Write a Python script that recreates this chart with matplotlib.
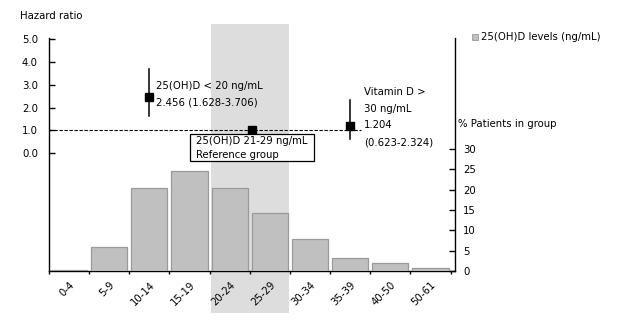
import matplotlib
matplotlib.use("Agg")
import matplotlib.pyplot as plt
from matplotlib.patches import Rectangle
import matplotlib.transforms as mtransforms

# ---- data ----
categories = ["0-4", "5-9", "10-14", "15-19", "20-24", "25-29", "30-34", "35-39", "40-50", "50-61"]
pct_patients = [0.3, 5.9, 20.4, 24.5, 20.4, 14.3, 7.8, 3.2, 2.0, 0.7]

hr_pos = [2.0, 4.55, 7.0]
hr_value = [2.456, 1.0, 1.204]
hr_low = [1.628, 1.0, 0.623]
hr_high = [3.706, 1.0, 2.324]

hr_ticks = [0, 1, 2, 3, 4, 5]
pct_ticks = [0, 5, 10, 15, 20, 25, 30]

FS = 7.3
plt.rcParams['font.family'] = ['DejaVu Sans']
plt.rcParams['font.size'] = FS

W, H = 617, 326
fig = plt.figure(figsize=(W / 100, H / 100), dpi=100)

x0, x1, yb, yt = 49, 455, 271, 38
ax = fig.add_axes([x0 / W, (H - yb) / H, (x1 - x0) / W, (yb - yt) / H])
ax2 = ax.twinx()

ax.set_xlim(-0.49, 9.61)
ax.set_ylim(-5.19, 5.057)
ax2.set_ylim(0, 57.3)

# shaded reference region
trans = mtransforms.blended_transform_factory(ax.transData, ax.transAxes)
ax.add_patch(Rectangle((3.54, -0.18), 5.48 - 3.54, 1.24, transform=trans,
                       facecolor="#dcdddc", edgecolor="none", clip_on=False, zorder=0))

# bars on the % axis
xs = list(range(len(categories)))
ax2.bar(xs, pct_patients, width=0.9, color="#c0c0c0", edgecolor="#9a9a9a",
        linewidth=0.9, zorder=2)

# hazard ratio reference line
ax.plot([-0.49, 7.28], [1.0, 1.0], color="black", lw=0.8,
        linestyle=(0, (3, 1.5)), zorder=3)

# hazard ratio points
for p, v, lo, hi in zip(hr_pos, hr_value, hr_low, hr_high):
    if hi > lo:
        ax.plot([p, p], [lo, hi], color="black", lw=1.1, zorder=4)
    ax.plot([p], [v], marker="s", color="black", markersize=6.3, zorder=5)

# annotations (pixel positions converted)
def px(xp, yp):
    return (xp / W, 1 - yp / H)

fig.text(*px(156, 86), "25(OH)D < 20 ng/mL", va="center", ha="left", fontsize=FS)
fig.text(*px(156, 103), "2.456 (1.628-3.706)", va="center", ha="left", fontsize=FS)

fig.patches.append(Rectangle(px(190, 161), 124 / W, 27 / H, transform=fig.transFigure,
                             facecolor="white", edgecolor="black", lw=0.9, zorder=6))
fig.text(*px(196, 141), "25(OH)D 21-29 ng/mL", va="center", ha="left", fontsize=FS, zorder=7)
fig.text(*px(196, 155), "Reference group", va="center", ha="left", fontsize=FS, zorder=7)

for i, s in enumerate(["Vitamin D >", "30 ng/mL", "1.204", "(0.623-2.324)"]):
    fig.text(*px(364, 92 + i * 16.7), s, va="center", ha="left", fontsize=FS)

fig.text(*px(20, 16), "Hazard ratio", va="center", ha="left", fontsize=FS)
fig.text(*px(458, 124), "% Patients in group", va="center", ha="left", fontsize=FS)

# legend
fig.patches.append(Rectangle(px(472, 40), 6 / W, 6 / H, transform=fig.transFigure,
                             facecolor="#c0c0c0", edgecolor="#9a9a9a", lw=0.6))
fig.text(*px(481, 37), "25(OH)D levels (ng/mL)", va="center", ha="left", fontsize=FS)

# spines
for a in (ax, ax2):
    a.spines["top"].set_visible(False)
    for s in a.spines.values():
        s.set_linewidth(1.0)
ax.spines["right"].set_visible(False)
ax2.spines["left"].set_visible(False)
ax2.spines["bottom"].set_visible(False)

# left ticks
ax.set_yticks(hr_ticks)
ax.set_yticklabels([f"{t:.1f}" for t in hr_ticks])
ax.tick_params(axis="y", direction="in", length=4, width=1, pad=8, labelsize=FS)

# right ticks
ax2.set_yticks(pct_ticks)
ax2.set_yticklabels([str(t) for t in pct_ticks])
ax2.tick_params(axis="y", direction="in", length=4, width=1, pad=6, labelsize=FS)

# x ticks
ax.set_xticks(xs)
ax.set_xticklabels(categories, rotation=45, ha="right", rotation_mode="anchor")
ax.tick_params(axis="x", length=0, pad=6, labelsize=FS)
ax.set_xticks([i + 0.5 for i in range(-1, 10)], minor=True)
ax.tick_params(axis="x", which="minor", direction="out", length=2, width=1)

fig.savefig("out.png", dpi=100)
